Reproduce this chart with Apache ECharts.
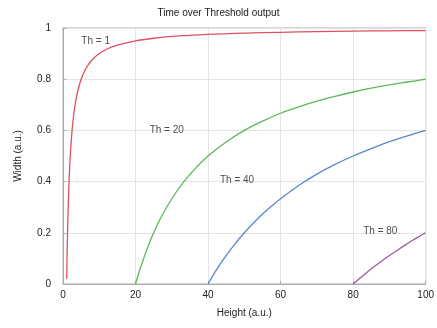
<!DOCTYPE html>
<html>
<head>
<meta charset="utf-8">
<script src="https://cdn.jsdelivr.net/npm/echarts@6/dist/echarts.min.js"></script>
<style>
html,body{margin:0;padding:0;background:#fff;}
#main{width:437px;height:328px;}
</style>
</head>
<body>
<div id="main"></div>
<script>
// points: [height, width]
var th1 = [[1.02,0.02],[1.1,0.09],[1.2,0.17],[1.3,0.23],[1.5,0.33],[1.75,0.43],[2,0.5],[2.5,0.6],[3,0.667],[3.5,0.714],[4,0.75],[5,0.8],[6,0.833],[7,0.857],[8,0.875],[10,0.9],[12,0.917],[15,0.933],[20,0.95],[25,0.96],[30,0.967],[40,0.975],[50,0.98],[60,0.983],[70,0.986],[80,0.988],[90,0.989],[100,0.99]];
var th20 = [[20,0],[21,0.048],[22,0.09],[23,0.13],[25,0.2],[27,0.26],[30,0.333],[33,0.394],[36,0.444],[40,0.5],[45,0.555],[50,0.6],[55,0.636],[60,0.667],[65,0.692],[70,0.714],[75,0.733],[80,0.75],[85,0.765],[90,0.778],[95,0.789],[100,0.8]];
var th40 = [[40,0],[42,0.048],[44,0.091],[47,0.149],[50,0.2],[53,0.245],[56,0.286],[60,0.333],[65,0.385],[70,0.429],[75,0.467],[80,0.5],[85,0.529],[90,0.556],[95,0.579],[100,0.6]];
var th80 = [[80,0],[82,0.024],[84,0.048],[86,0.07],[88,0.091],[90,0.111],[92,0.13],[94,0.149],[96,0.167],[98,0.184],[100,0.2]];

var seriesNames = ['Th = 1','Th = 20','Th = 40','Th = 80'];
var seriesColors = ['#e0505e','#5cb85a','#5a86cc','#9a5c9e'];
// label anchors [height, width]
var labelPos = [[9,0.95],[28.6,0.6],[48,0.405],[87.5,0.205]];

var font = 'Liberation Sans, Arial, sans-serif';
var allData = [th1, th20, th40, th80];

var eChart = echarts.init(document.getElementById('main'), null, {renderer:'canvas'});

var series = [];
for (var i = 0; i < allData.length; i++) {
	series.push({
		name: seriesNames[i],
		type: 'line',
		data: allData[i],
		smooth: 0.3,
		showSymbol: false,
		lineStyle: {color: seriesColors[i], width: 1.3},
		itemStyle: {color: seriesColors[i]}
	});
}
// text labels
var txt = [];
for (var i = 0; i < labelPos.length; i++) {
	txt.push({value: labelPos[i], name: seriesNames[i]});
}
series.push({
	type: 'scatter',
	data: txt,
	symbolSize: 0,
	label: {
		show: true,
		formatter: function(p){ return p.name; },
		position: 'inside',
		color: '#222',
		fontSize: 10,
		fontFamily: font
	}
});

var option = {
	animation: false,
	title: {
		text: 'Time over Threshold output',
		left: 'center',
		top: 3,
		textStyle: {fontSize: 10, fontWeight: 'normal', color: '#222', fontFamily: font}
	},
	grid: {
		left: 63, right: 10, top: 28, bottom: 44,
		show: true, borderColor: '#aaa', borderWidth: 1
	},
	xAxis: {
		type: 'value', min: 0, max: 100, interval: 20,
		name: 'Height (a.u.)', nameLocation: 'middle', nameGap: 24,
		nameTextStyle: {fontSize: 10, color: '#222', fontFamily: font},
		axisLine: {show: true, lineStyle: {color: '#aaa'}},
		axisTick: {show: true, inside: true, length: 3, lineStyle: {color: '#aaa'}},
		axisLabel: {fontSize: 10, color: '#222', fontFamily: font, margin: 6},
		splitLine: {show: true, lineStyle: {color: '#e4e4e4'}}
	},
	yAxis: {
		type: 'value', min: 0, max: 1, interval: 0.2,
		name: 'Width (a.u.)', nameLocation: 'middle', nameGap: 40,
		nameTextStyle: {fontSize: 10, color: '#222', fontFamily: font},
		axisLine: {show: true, lineStyle: {color: '#aaa'}},
		axisTick: {show: true, inside: true, length: 3, lineStyle: {color: '#aaa'}},
		axisLabel: {fontSize: 10, color: '#222', fontFamily: font, margin: 12},
		splitLine: {show: true, lineStyle: {color: '#e4e4e4'}}
	},
	series: series
};
eChart.setOption(option);
</script>
</body>
</html>
